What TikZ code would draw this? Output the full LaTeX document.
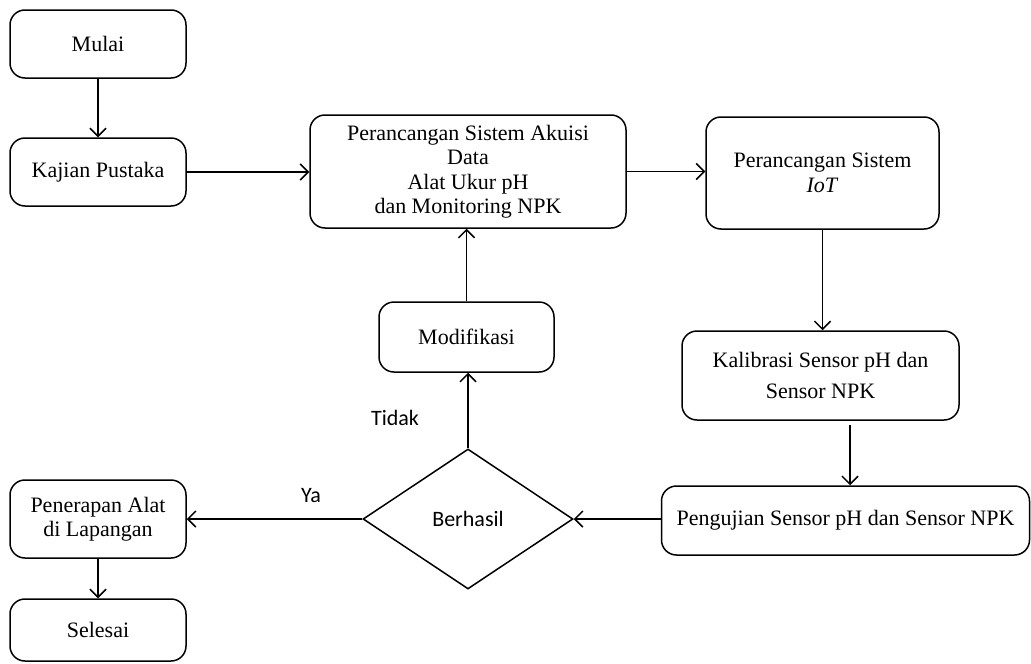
\documentclass[tikz,border=0pt]{standalone}
\usepackage{fontspec}
\setmainfont{Liberation Serif}
\newfontfamily\lblfont{Carlito}
\usetikzlibrary{arrows.meta,shapes.geometric}
\begin{document}
\begin{tikzpicture}[x=1pt,y=-1pt,
  box/.style={draw,line width=1.5pt,rounded corners=15pt,align=center,inner sep=0pt,
    font=\fontsize{22}{24.5}\selectfont},
  dec/.style={draw,line width=1.5pt,shape=diamond,inner sep=0pt,aspect=1.5,
    font=\lblfont\fontsize{22}{24}\selectfont},
  lbl/.style={font=\lblfont\fontsize{22}{24}\selectfont,inner sep=0pt},
  conn/.style={draw,line width=1.5pt,-{Straight Barb[length=8pt,width=16pt,line width=1.5pt]}}]
\useasboundingbox (0,0) rectangle (1031,664);
\node[box,minimum width=176,minimum height=68] (mul) at (98,44) {Mulai};
\node[box,minimum width=176,minimum height=68] (kaj) at (98,172) {Kajian Pustaka};
\node[box,minimum width=316,minimum height=113] (aku) at (468,171.5) {Perancangan Sistem Akuisi\\Data\\Alat Ukur pH\\dan Monitoring NPK};
\node[box,minimum width=233,minimum height=112] (iot) at (822.5,173) {Perancangan Sistem\\\textit{IoT}};
\node[box,minimum width=175,minimum height=70] (mod) at (466.5,337) {Modifikasi};
\node[dec,minimum width=210,minimum height=140] (ber) at (468,519) {Berhasil};
\node[box,minimum width=277,minimum height=89] (kal) at (820.5,375.5) {Kalibrasi Sensor pH dan\\[7pt]Sensor NPK};
\node[box,minimum width=368,minimum height=69] (pen) at (845.5,520.5) {Pengujian Sensor pH dan Sensor NPK};
\node[box,minimum width=176,minimum height=78] (ter) at (98,519) {Penerapan Alat\\di Lapangan};
\node[box,minimum width=176,minimum height=62] (sel) at (98,630) {Selesai};
\node[lbl] (ya) at (311,496) {Ya};
\node[lbl] (tid) at (395,418) {Tidak};
\draw[conn] (mul) -- (kaj);
\draw[conn] (kaj.east) -- (kaj.east -| aku.west);
\draw[conn] (aku.east) -- (aku.east -| iot.west);
\draw[conn] (iot.south) -- (iot.south |- kal.north);
\draw[conn] ([xshift=29.5pt,yshift=-4pt]kal.south) -- ([xshift=29.5pt]kal.south |- pen.north);
\draw[conn] (ber.east -| pen.west) -- (ber.east);
\draw[conn] (ber.west) -- (ber.west -| ter.east);
\draw[conn] (ter) -- (sel);
\draw[conn] (ber.north) -- (ber.north |- mod.south);
\draw[conn] (mod.north) -- (mod.north |- aku.south);
\end{tikzpicture}
\end{document}
